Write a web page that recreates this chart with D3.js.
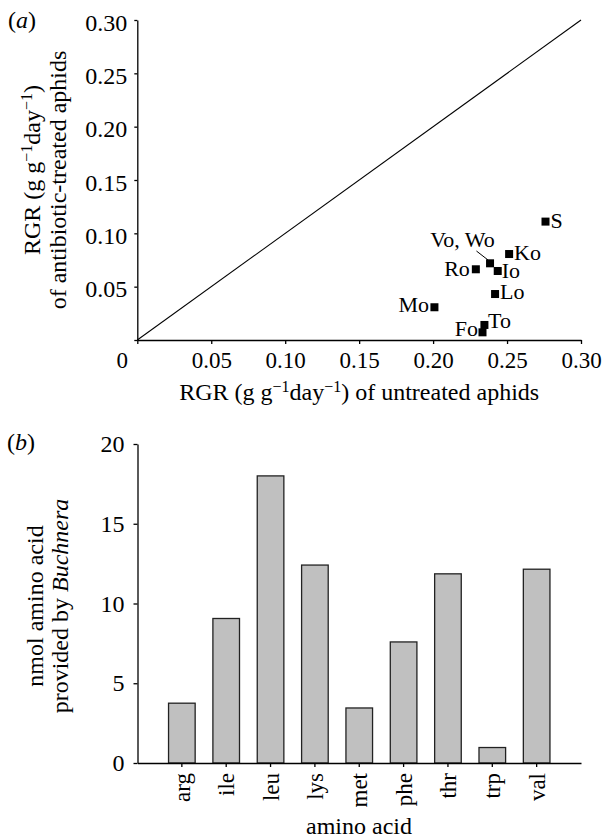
<!DOCTYPE html>
<html>
<head>
<meta charset="utf-8">
<script src="https://cdn.jsdelivr.net/npm/d3@7"></script>
<style>
  body { margin: 0; background: #fff; }
  svg text { font-family: "Liberation Serif", "Times New Roman", Times, serif; fill: #000; }
</style>
</head>
<body>
<div id="chart"></div>
<script>
const width = 603,
      height = 838;

// panel (a): RGR of aphid clones
const clones = ['S', 'Ko', 'Vo, Wo', 'Io', 'Ro', 'Lo', 'Mo', 'To', 'Fo'];
const rgrUntreated = [0.276, 0.2514, 0.2385, 0.2437, 0.2289, 0.2419, 0.2009, 0.2347, 0.2334];
const rgrAntibiotic = [0.111, 0.0806, 0.0719, 0.0647, 0.0663, 0.0431, 0.0307, 0.0141, 0.0072];
const rgrTicks = [0, 0.05, 0.10, 0.15, 0.20, 0.25, 0.30];

// panel (b): amino acids provided by Buchnera
const aminoAcids = ['arg', 'ile', 'leu', 'lys', 'met', 'phe', 'thr', 'trp', 'val'];
const nmolProvided = [3.75, 9.06, 18.0, 12.41, 3.45, 7.59, 11.86, 0.97, 12.15];
const nmolTicks = [0, 5, 10, 15, 20];

// label placement around each point (layout only)
const labelPlace = {
  'S':      { dx: 5,     dy: 6.6,  anchor: 'start' },
  'Ko':     { dx: 5,     dy: 6,    anchor: 'start' },
  'Vo, Wo': { dx: -27.5, dy: -16.6, anchor: 'middle', leader: [[-13.6, -12.3], [-2, -3.3]] },
  'Io':     { dx: 4,     dy: 6.7,  anchor: 'start' },
  'Ro':     { dx: -6,    dy: 6.7,  anchor: 'end' },
  'Lo':     { dx: 5,     dy: 5.3,  anchor: 'start' },
  'Mo':     { dx: -5.4,  dy: 4.4,  anchor: 'end' },
  'To':     { dx: 3.6,   dy: 3.3,  anchor: 'start' },
  'Fo':     { dx: -4.4,  dy: 3.7,  anchor: 'end' }
};

const svg = d3.select('#chart').append('svg')
  .attr('width', width)
  .attr('height', height);

const fontSize = 24;

function styleAxis(g) {
  g.attr('font-family', null).attr('font-size', null);
  g.select('.domain').attr('stroke', '#000').attr('stroke-width', 1.3);
  g.selectAll('.tick line').attr('stroke', '#000').attr('stroke-width', 1.3);
  g.selectAll('.tick text').attr('font-size', fontSize).attr('fill', '#000');
}

// superscript unit helper: RGR (g g−1day−1)
function rgrUnit(textSel) {
  textSel.append('tspan').text('RGR (g g');
  textSel.append('tspan').attr('dy', -8).attr('font-size', 16).text('\u22121');
  textSel.append('tspan').attr('dy', 8).text('day');
  textSel.append('tspan').attr('dy', -8).attr('font-size', 16).text('\u22121');
  textSel.append('tspan').attr('dy', 8).text(')');
}

// ---------- panel (a) ----------
const xA = d3.scaleLinear().domain([0, 0.30]).range([137.3, 581]);
const yA = d3.scaleLinear().domain([0, 0.30]).range([340, 20]);
const fmtA = d => d === 0 ? '' : d3.format('.2f')(d);

const gA = svg.append('g');

gA.append('g')
  .attr('transform', `translate(0,${yA(0)})`)
  .call(d3.axisBottom(xA).tickValues(rgrTicks).tickFormat(fmtA).tickSize(4).tickSizeOuter(0).tickPadding(7.7))
  .call(styleAxis)
  .selectAll('.tick text').attr('font-size', 23);

gA.append('g')
  .attr('transform', `translate(${xA(0)},0)`)
  .call(d3.axisLeft(yA).tickValues(rgrTicks).tickFormat(fmtA).tickSize(3).tickSizeOuter(0).tickPadding(7))
  .call(styleAxis)
  .selectAll('.tick text').attr('dy', '0.42em');

// shared origin label
gA.append('text')
  .attr('x', 128).attr('y', 368)
  .attr('text-anchor', 'end')
  .attr('font-size', 23)
  .text('0');

// 1:1 line
gA.append('line')
  .attr('x1', xA(0)).attr('y1', yA(0))
  .attr('x2', xA(0.30)).attr('y2', yA(0.30))
  .attr('stroke', '#000').attr('stroke-width', 1.1);

const pts = clones.map((c, i) => ({ name: c, x: rgrUntreated[i], y: rgrAntibiotic[i] }));

gA.selectAll('rect.pt')
  .data(pts)
  .enter().append('rect')
  .attr('class', 'pt')
  .attr('x', d => xA(d.x) - 4)
  .attr('y', d => yA(d.y) - 4)
  .attr('width', 8).attr('height', 8)
  .attr('fill', '#000');

gA.selectAll('text.lbl')
  .data(pts)
  .enter().append('text')
  .attr('class', 'lbl')
  .attr('x', d => xA(d.x) + labelPlace[d.name].dx)
  .attr('y', d => yA(d.y) + labelPlace[d.name].dy)
  .attr('text-anchor', d => labelPlace[d.name].anchor)
  .attr('font-size', 22)
  .text(d => d.name);

pts.filter(d => labelPlace[d.name].leader).forEach(d => {
  const l = labelPlace[d.name].leader;
  gA.append('line')
    .attr('x1', xA(d.x) + l[0][0]).attr('y1', yA(d.y) + l[0][1])
    .attr('x2', xA(d.x) + l[1][0]).attr('y2', yA(d.y) + l[1][1])
    .attr('stroke', '#000').attr('stroke-width', 1);
});

// axis titles
gA.append('text')
  .attr('x', (xA.range()[0] + xA.range()[1]) / 2).attr('y', 400)
  .attr('text-anchor', 'middle').attr('font-size', fontSize)
  .call(t => {
    rgrUnit(t);
    t.append('tspan').text(' of untreated aphids');
  });

const yTitleA = gA.append('g').attr('transform', 'translate(0,180) rotate(-90)');
yTitleA.append('text').attr('x', 10).attr('y', 40)
  .attr('text-anchor', 'middle').attr('font-size', fontSize)
  .call(rgrUnit);
yTitleA.append('text').attr('x', 0).attr('y', 66)
  .attr('text-anchor', 'middle').attr('font-size', fontSize)
  .text('of antibiotic-treated aphids');

gA.append('text').attr('x', 8).attr('y', 28).attr('font-size', fontSize)
  .call(t => {
    t.append('tspan').text('(');
    t.append('tspan').attr('font-style', 'italic').text('a');
    t.append('tspan').text(')');
  });

// ---------- panel (b) ----------
const xB = d3.scaleBand().domain(aminoAcids).range([137.5, 581]).paddingInner(0.4).paddingOuter(0.7);
const yB = d3.scaleLinear().domain([0, 20]).range([763, 444]);

const gB = svg.append('g');

gB.selectAll('rect.bar')
  .data(aminoAcids.map((a, i) => ({ a, v: nmolProvided[i] })))
  .enter().append('rect')
  .attr('class', 'bar')
  .attr('x', d => xB(d.a))
  .attr('y', d => yB(d.v))
  .attr('width', xB.bandwidth())
  .attr('height', d => yB(0) - yB(d.v))
  .attr('fill', '#c0c0c0')
  .attr('stroke', '#222')
  .attr('stroke-width', 1.3);

gB.append('g')
  .attr('transform', `translate(0,${yB(0)})`)
  .call(d3.axisBottom(xB).tickSize(4).tickSizeOuter(0).tickPadding(6))
  .call(styleAxis)
  .selectAll('.tick text')
  .attr('font-size', 23)
  .attr('transform', 'rotate(-90)')
  .attr('text-anchor', 'end')
  .attr('x', -10).attr('y', 0)
  .attr('dy', '0.35em');

gB.append('g')
  .attr('transform', `translate(${xB.range()[0]},0)`)
  .call(d3.axisLeft(yB).tickValues(nmolTicks).tickSize(4).tickSizeOuter(0).tickPadding(9))
  .call(styleAxis);

gB.append('text')
  .attr('x', 359).attr('y', 834)
  .attr('text-anchor', 'middle').attr('font-size', fontSize)
  .text('amino acid');

const yTitleB = gB.append('g').attr('transform', 'translate(0,606) rotate(-90)');
yTitleB.append('text').attr('x', 0).attr('y', 43)
  .attr('text-anchor', 'middle').attr('font-size', fontSize)
  .text('nmol amino acid');
yTitleB.append('text').attr('x', 0).attr('y', 68)
  .attr('text-anchor', 'middle').attr('font-size', fontSize)
  .call(t => {
    t.append('tspan').text('provided by ');
    t.append('tspan').attr('font-style', 'italic').text('Buchnera');
  });

gB.append('text').attr('x', 7).attr('y', 450).attr('font-size', fontSize)
  .call(t => {
    t.append('tspan').text('(');
    t.append('tspan').attr('font-style', 'italic').text('b');
    t.append('tspan').text(')');
  });
</script>
</body>
</html>
